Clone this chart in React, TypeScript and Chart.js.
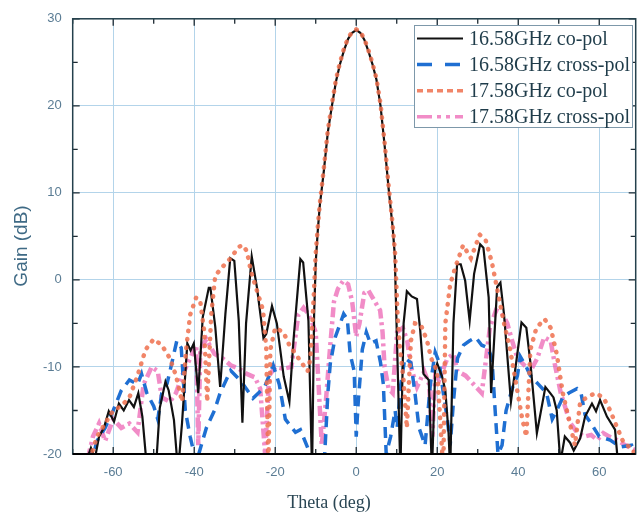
import { useEffect, useRef } from 'react';
import { Chart, registerables } from 'chart.js';

Chart.register(...registerables);

const xTickValues = [-60, -40, -20, 0, 20, 40, 60];
const yTickValues = [-20, -10, 0, 10, 20, 30];
const seriesLabels = ['16.58GHz co-pol', '16.58GHz cross-pol', '17.58GHz co-pol', '17.58GHz cross-pol'];

// 16.58 GHz co-pol
const thetaCo1658 = [
  -70, -67, -66.4, -65.5, -64.5, -63.5, -62.3, -61.1, -59.8, -58.6,
  -57.4, -56.1, -54.9, -53.8, -52.8, -51.6, -49.5, -48.5, -47.1, -46.3,
  -45, -44, -43, -41.7, -40.9, -40.1, -39, -37.9, -36.4, -36,
  -34.8, -33.6, -32.3, -31.1, -30.1, -29, -28.1, -27.2, -25.8, -24.5,
  -22.9, -22.2, -20.8, -19.6, -17.9, -16.5, -15.5, -13.8, -13.1, -11.8,
  -10.9, -10.4, -10, -9.5, -9, -8, -7, -6, -5, -4,
  -3, -2, -1, 0, 1, 2, 3, 4, 5, 6,
  7, 8, 9, 9.5, 10, 10.9, 11.7, 12.5, 13.7, 15,
  15.8, 16.6, 17.9, 18.7, 19.5, 20, 21.2, 22, 22.8, 23.2,
  24, 24.9, 25.8, 26.9, 28, 29.1, 30.6, 31.4, 32.7, 33.3,
  34.8, 35.6, 36.5, 38.2, 40.8, 42, 43, 44.6, 46.7, 47.9,
  48.7, 49.5, 50.4, 51.5, 52.8, 53.7, 55.3, 56.5, 58.2, 59.2,
  60.2, 61.9, 63.9, 64.8, 69,
];
const gainCo1658 = [
  -25, -25, -20.5, -19.3, -20.5, -18, -17, -15.1, -16.3, -14.2,
  -15, -13.8, -14.6, -13, -15.7, -22, -22, -14.7, -11.7, -12.7,
  -16.1, -22, -16.4, -7.3, -8.1, -7.3, -13, -4.3, -0.9, -0.9,
  -5.4, -12.3, -3.9, 2.5, 2.2, -4.7, -16.4, -5, 2.7, -0.9,
  -6.7, -6.2, -3, -5, -11.1, -14, -7, 2.4, 2, -4.7,
  -22, -4, 2, 5.6, 8.5, 12.5, 17, 20, 22.8, 24.8,
  26.4, 27.7, 28.4, 28.7, 28.4, 27.6, 26.3, 24.8, 23, 20,
  15.5, 10.5, 6, 3, -5.8, -22, -5, -1.3, -1.9, -2.2,
  -5.8, -10.8, -11.5, -22, -10.4, -9.6, -11.1, -12.7, -17.6, -22,
  -5, 1.8, 1.8, -0.1, -4.7, 0.7, 4.1, 3.7, -2, -13,
  -0.8, -0.3, -4, -14, -4.9, -5.5, -9.5, -17.6, -12.3, -13,
  -13.5, -15, -21, -18, -18.7, -19.6, -18.2, -15.7, -14.2, -15.1,
  -13.8, -15.7, -17.2, -22, -25,
];

// 16.58 GHz cross-pol
const thetaX1658 = [
  -70, -66, -64, -62, -60, -58, -56, -54, -53, -51.7,
  -50, -49, -48, -46.7, -45.5, -44.3, -43.2, -42.2, -41, -39.5,
  -37, -35, -33.6, -31, -28.5, -25.5, -22.6, -20.5, -19, -17.5,
  -15, -13.8, -11.8, -10.5, -8, -7, -6.4, -5.2, -3.1, -2.2,
  -1.5, -0.5, 0, 0.5, 1.5, 2.5, 3.5, 4.9, 6, 6.7,
  7.4, 8.5, 9.6, 10.1, 11, 12, 13.5, 14.5, 15.5, 17,
  18.3, 19.5, 20.5, 21.5, 22.5, 23.2, 24, 25, 26.5, 28,
  29.5, 31, 32.5, 33.5, 34.3, 35, 36, 37, 38.5, 39.8,
  40.5, 42, 43, 45, 47, 48.4, 49.5, 51, 52.5, 54.5,
  55.5, 56.5, 58, 60, 62.7, 65.2, 68, 69,
];
const gainX1658 = [
  -25, -22, -18.5, -17, -15, -12.7, -11.5, -12, -10.8, -13,
  -14.5, -16, -13, -11.9, -9.5, -7, -7.8, -15, -18, -21,
  -17, -15, -13, -10.4, -11.6, -13.6, -12.3, -9.8, -12, -16,
  -17.5, -17.2, -19.5, -22, -22, -13, -9.6, -6.6, -3.9, -4.5,
  -8.5, -10.5, -18, -14, -8, -6, -7.3, -7, -9.5, -12,
  -20, -18, -15, -17, -12, -9, -9.5, -13, -17, -19,
  -12, -8.3, -9.5, -13, -16, -19, -14, -9, -7.5, -7,
  -6.6, -7.5, -7.8, -9, -15, -20, -19, -15, -12.5, -11,
  -8.8, -10, -11, -12, -13, -16, -15, -13.5, -13, -12.5,
  -13, -15.5, -16.5, -18, -18.4, -19.2, -19, -20,
];

// 17.58 GHz co-pol
const thetaCo1758 = [
  -70, -66, -64, -62, -60, -58, -56, -54, -52, -50,
  -48, -46, -44.5, -43, -42, -41, -39.5, -38.5, -37.5, -36.8,
  -35.8, -34.8, -33, -31, -29, -28, -27, -26, -25, -24,
  -23, -22.2, -21.7, -21.2, -20, -18, -16.5, -15, -13.5, -12,
  -11.3, -10.5, -10, -9.5, -9, -8, -7, -6, -5, -4,
  -3, -2, -1, 0, 1, 2, 3, 4, 5, 6,
  7, 8, 9, 9.6, 10.2, 10.8, 11.6, 12.5, 13.5, 14.5,
  16, 17.5, 18.5, 20, 21.5, 22, 23.2, 24.5, 26.4, 28.3,
  30.5, 32, 33.5, 35, 36.5, 38, 39.5, 41, 42, 43,
  44.5, 46.5, 48, 49.5, 51, 52.5, 54, 55.3, 57, 59,
  61, 62.7, 64, 66, 68.4, 69,
];
const gainCo1758 = [
  -25, -21, -18, -16.5, -15, -14.5, -13.5, -11, -8, -6.8,
  -7.5, -9, -11, -14, -8, -4, -2, -2.5, -6, -14,
  -4, 0.5, 1.5, 2.5, 3.8, 4, 3.3, 1, -0.5, -2,
  -3.5, -8, -22, -8, -5.5, -6, -7.5, -8.5, -9.5, -10.5,
  -9, -2, 3, 6, 8.7, 12.8, 17.2, 20.2, 23, 25,
  26.6, 27.8, 28.5, 28.8, 28.5, 27.7, 26.4, 24.9, 23.1, 20.2,
  15.8, 10.8, 6.3, 3, -4, -8, -11, -17, -7, -5,
  -5.2, -7, -9, -10.5, -22, -5, -0.5, 1.5, 4, 2.5,
  5.2, 4.5, 2, -1.5, -5, -8, -12, -16, -18, -8,
  -5.5, -4.5, -5.5, -8.5, -13, -16, -19, -14, -13.5, -13,
  -13.5, -15, -16.5, -18.7, -19.5, -21,
];

// 17.58 GHz cross-pol
const thetaX1758 = [
  -70, -67, -65, -63.5, -62, -60, -58, -56, -54, -52.5,
  -50.5, -49, -48, -46, -44.5, -43, -41, -39.5, -39, -38.5,
  -37, -35, -33, -31, -29, -27, -25, -23.7, -22.5, -21.5,
  -20, -18, -16, -14.3, -13, -12, -11, -10, -9.3, -8.5,
  -7.5, -6.5, -5.5, -4.5, -3.2, -2, -1, 0, 0.8, 2,
  3, 4, 5, 5.9, 6.5, 7, 8, 9, 10.1, 11.5,
  12.6, 13.5, 15, 16.8, 18, 18.8, 19.5, 20.5, 22.5, 24,
  25, 27, 29, 31, 33, 34.5, 36, 37.3, 38.5, 39.8,
  41.5, 43, 44.7, 46.4, 48, 49, 50.5, 52.8, 54.5, 56.3,
  58, 59.5, 61, 62.5, 64.4, 66.5, 68.6, 69,
];
const gainX1758 = [
  -25, -22, -18, -16.5, -18.5, -16, -17, -16.5, -17.5, -12,
  -10, -10.5, -13.5, -14, -13, -11, -9, -7.5, -19, -8,
  -6.8, -8.5, -9, -9.8, -10.2, -10.8, -11.2, -12.5, -20, -11,
  -10, -10.2, -10, -4, -3.2, -3.8, -4.8, -6, -12, -19,
  -14, -8, -2.5, -1, -0.1, -0.5, -2.5, -6.5, -5, -1.5,
  -1.2, -2, -2.8, -3.5, -6, -10, -12.5, -13, -6, -5.5,
  -7, -10, -12.3, -10.5, -12, -18, -11, -11.5, -9, -8.5,
  -10.5, -11, -12, -13, -5.5, -3.5, -3.8, -5, -7, -9,
  -9.8, -10.5, -9, -6.6, -7, -9.6, -13, -16.4, -17.5, -18,
  -17.8, -18.4, -17.6, -18, -18.4, -19, -19.5, -20,
];

const toPoints = (xs: number[], ys: number[]) =>
  xs.slice(0, Math.min(xs.length, ys.length)).map((t, i) => ({ x: t, y: ys[i] }));

const seriesStyles = [
  { color: '#111111', width: 2.2, dash: [] as number[], legendDash: [] as number[], cap: 'butt' as CanvasLineCap, order: 1 },
  { color: '#1f6fd2', width: 3.5, dash: [11, 7], legendDash: [15, 13], cap: 'butt' as CanvasLineCap, order: 2 },
  { color: 'rgba(238,112,78,0.85)', width: 4.5, dash: [0.5, 8], legendDash: [6, 4], cap: 'round' as CanvasLineCap, order: 0 },
  { color: 'rgba(236,96,178,0.72)', width: 4.5, dash: [10, 4, 3, 4], legendDash: [15, 5, 4, 5, 4, 5], cap: 'butt' as CanvasLineCap, order: 3 },
];

const overlayPlugin = {
  id: 'overlay',
  afterDatasetsDraw(chart: any) {
    const { ctx, chartArea: a, scales } = chart;
    const x = scales.x;
    const y = scales.y;
    ctx.save();
    // inward ticks on all four sides
    ctx.strokeStyle = '#1e2b33';
    ctx.lineWidth = 1.3;
    for (let v = -70; v <= 69; v += 10) {
      const px = x.getPixelForValue(v);
      const len = xTickValues.includes(v) ? 7 : 5;
      ctx.beginPath();
      ctx.moveTo(px, a.bottom);
      ctx.lineTo(px, a.bottom - len);
      ctx.moveTo(px, a.top);
      ctx.lineTo(px, a.top + len);
      ctx.stroke();
    }
    for (let v = -20; v <= 30; v += 5) {
      const py = y.getPixelForValue(v);
      const len = yTickValues.includes(v) ? 7 : 5;
      ctx.beginPath();
      ctx.moveTo(a.left, py);
      ctx.lineTo(a.left + len, py);
      ctx.moveTo(a.right, py);
      ctx.lineTo(a.right - len, py);
      ctx.stroke();
    }
    // frame
    ctx.lineWidth = 1.5;
    ctx.strokeStyle = '#24404c';
    ctx.strokeRect(a.left, a.top, a.right - a.left, a.bottom - a.top);
    ctx.beginPath();
    ctx.strokeStyle = '#000';
    ctx.lineWidth = 2;
    ctx.moveTo(a.left, a.bottom);
    ctx.lineTo(a.right, a.bottom);
    ctx.stroke();

    // legend
    const bx = 414, by = 25, bw = 218, bh = 102;
    ctx.fillStyle = '#ffffff';
    ctx.fillRect(bx, by, bw, bh);
    ctx.strokeStyle = '#7d98aa';
    ctx.lineWidth = 1;
    ctx.strokeRect(bx + 0.5, by + 0.5, bw, bh);
    seriesLabels.forEach((label, i) => {
      const s = seriesStyles[i];
      const ry = 38.5 + i * 26.1;
      ctx.save();
      ctx.strokeStyle = s.color;
      ctx.lineWidth = i === 0 ? 2.2 : 3.5;
      ctx.lineCap = 'butt';
      ctx.setLineDash(s.legendDash);
      ctx.beginPath();
      ctx.moveTo(417, ry);
      ctx.lineTo(463, ry);
      ctx.stroke();
      ctx.restore();
      ctx.fillStyle = '#1f3c4a';
      ctx.font = '20px "Liberation Serif", serif';
      ctx.textAlign = 'left';
      ctx.textBaseline = 'middle';
      ctx.fillText(label, 469, ry + 1);
    });

    // axis titles
    ctx.fillStyle = '#2a4654';
    ctx.font = '18px "Liberation Serif", serif';
    ctx.textAlign = 'center';
    ctx.textBaseline = 'middle';
    ctx.fillText('Theta (deg)', 329, 503);
    ctx.save();
    ctx.translate(22, 246);
    ctx.rotate(-Math.PI / 2);
    ctx.fillStyle = '#3f6a85';
    ctx.font = '19px "Liberation Sans", Arial, sans-serif';
    ctx.fillText('Gain (dB)', 0, 0);
    ctx.restore();
    ctx.restore();
  },
};

export default function App() {
  const ref = useRef<HTMLCanvasElement | null>(null);
  useEffect(() => {
    if (!ref.current) return;
    const data = [
      toPoints(thetaCo1658, gainCo1658),
      toPoints(thetaX1658, gainX1658),
      toPoints(thetaCo1758, gainCo1758),
      toPoints(thetaX1758, gainX1758),
    ];
    const chart = new Chart(ref.current, {
      type: 'line',
      data: {
        datasets: seriesLabels.map((label, i) => ({
          label,
          data: data[i],
          borderColor: seriesStyles[i].color,
          borderWidth: seriesStyles[i].width,
          borderDash: seriesStyles[i].dash,
          borderCapStyle: seriesStyles[i].cap,
          pointRadius: 0,
          tension: 0,
          fill: false,
          order: seriesStyles[i].order,
          clip: 0,
        })),
      },
      options: {
        animation: false,
        responsive: false,
        devicePixelRatio: 1,
        parsing: false,
        layout: { padding: { top: 15.7, right: 1.3, left: 0, bottom: 0 } },
        plugins: { legend: { display: false }, tooltip: { enabled: false } },
        scales: {
          x: {
            type: 'linear',
            min: -70,
            max: 69,
            afterBuildTicks: (s: any) => {
              s.ticks = xTickValues.map((v) => ({ value: v }));
            },
            afterFit: (s: any) => {
              s.height = 67;
            },
            grid: { color: '#b3d4ea', lineWidth: 1, drawTicks: false },
            border: { display: false },
            ticks: {
              padding: 11,
              color: '#5a7c94',
              font: { family: '"Liberation Sans", Arial, sans-serif', size: 13 },
              callback: (v: any) => String(v),
              maxRotation: 0,
            },
          },
          y: {
            type: 'linear',
            min: -20,
            max: 30,
            afterBuildTicks: (s: any) => {
              s.ticks = yTickValues.map((v) => ({ value: v }));
            },
            afterFit: (s: any) => {
              s.width = 72.7;
            },
            grid: { color: '#b3d4ea', lineWidth: 1, drawTicks: false },
            border: { display: false },
            ticks: {
              padding: 11,
              color: '#5a7c94',
              font: { family: '"Liberation Sans", Arial, sans-serif', size: 13 },
              callback: (v: any) => String(v),
            },
          },
        },
      },
      plugins: [overlayPlugin],
    } as any);
    return () => chart.destroy();
  }, []);
  return (
    <div style={{ position: 'absolute', left: 0, top: 0, width: 637, height: 521, background: '#fff' }}>
      <canvas ref={ref} width={637} height={521} style={{ display: 'block' }} />
    </div>
  );
}
